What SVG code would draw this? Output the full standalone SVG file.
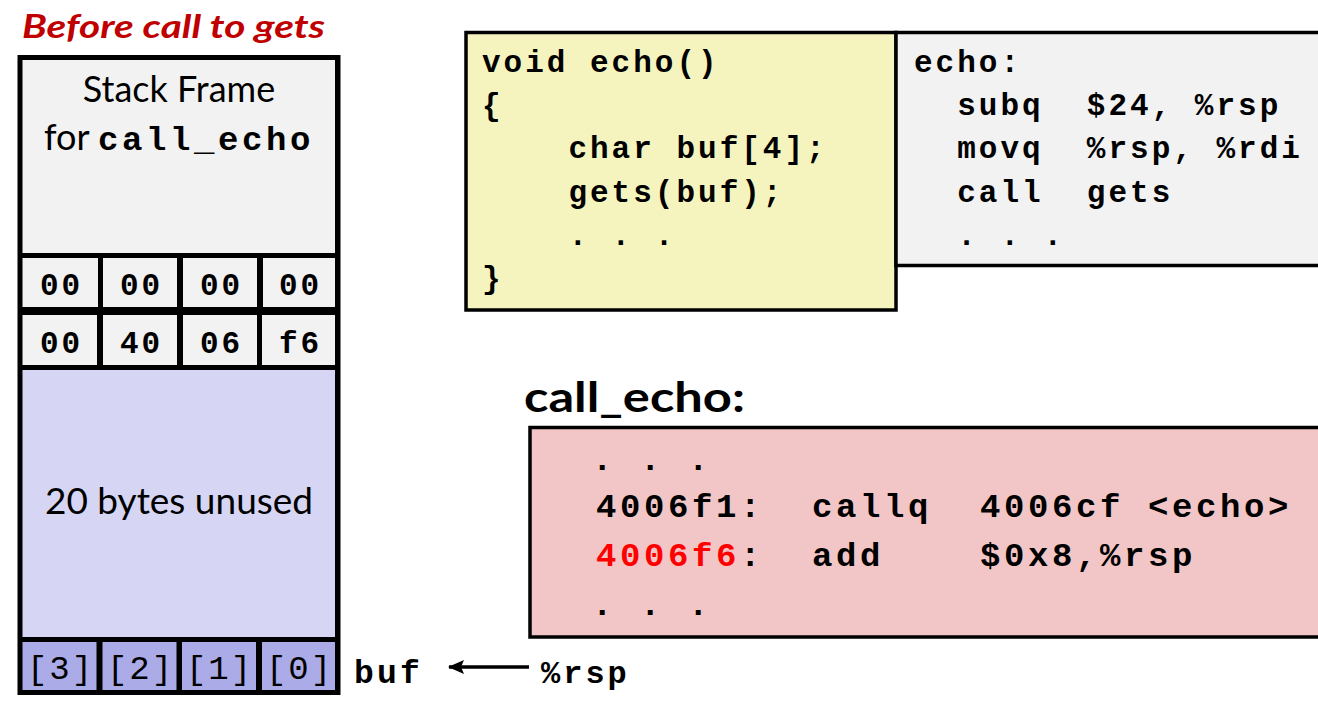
<svg xmlns="http://www.w3.org/2000/svg" width="1318" height="705" viewBox="0 0 1318 705">
  <style>
    .sans { font-family: Lato, "Open Sans", "Liberation Sans", sans-serif; fill: #000; }
    .mono { font-family: "Liberation Mono", "Courier New", monospace; font-weight: bold; fill: #000; }
    .monoR { font-family: "Liberation Mono", "Courier New", monospace; fill: #000; }
    .m36 { font-size: 31px; letter-spacing: 3px; }
    .m40 { font-size: 34px; letter-spacing: 3.6px; }
    .cell { fill: #F2F2F2; }
    .code { stroke: #000; stroke-width: 3.5; }
  </style>
  <defs>
    <marker id="arrowhead" markerWidth="16" markerHeight="14" refX="15" refY="7" orient="auto" markerUnits="userSpaceOnUse">
      <path d="M0,0 L16,7 L0,14 L3,7 Z" fill="#000"/>
    </marker>
  </defs>

  <rect width="1318" height="705" fill="#FFFFFF"/>

  <!-- Title -->
  <text class="sans" x="22" y="38" font-size="33" font-weight="bold" font-style="italic" style="fill:#C00000" textLength="303" lengthAdjust="spacingAndGlyphs">Before call to gets</text>

  <!-- Stack -->
  <g id="stack">
    <rect x="17.5" y="55" width="323" height="640" fill="#000"/>
    <g id="frame-call-echo">
      <rect class="cell" x="22.5" y="60" width="312.5" height="193"/>
      <text class="sans" x="179" y="102" font-size="36" text-anchor="middle">Stack Frame</text>
      <text x="44" y="150"><tspan class="sans" font-size="36">for&#160;</tspan><tspan class="mono m40">call_echo</tspan></text>
    </g>
    <g id="row-upper">
      <rect class="cell" x="22.5" y="258" width="75.5" height="49"/>
      <rect class="cell" x="103" y="258" width="74" height="49"/>
      <rect class="cell" x="183" y="258" width="74" height="49"/>
      <rect class="cell" x="263" y="258" width="72" height="49"/>
      <g class="mono m36" text-anchor="middle">
        <text x="61.5" y="295">00</text>
        <text x="141.5" y="295">00</text>
        <text x="221.5" y="295">00</text>
        <text x="300.5" y="295">00</text>
      </g>
    </g>
    <g id="row-return-address">
      <rect class="cell" x="22.5" y="315" width="74.5" height="50"/>
      <rect class="cell" x="103" y="315" width="74" height="50"/>
      <rect class="cell" x="183" y="315" width="74" height="50"/>
      <rect class="cell" x="262" y="315" width="73" height="50"/>
      <g class="mono m36" text-anchor="middle">
        <text x="61.5" y="353">00</text>
        <text x="141.5" y="353">40</text>
        <text x="221.5" y="353">06</text>
        <text x="300.5" y="353">f6</text>
      </g>
    </g>
    <g id="unused-space">
      <rect x="22.5" y="370" width="312.5" height="267" fill="#D6D6F4"/>
      <text class="sans" x="179" y="514" font-size="37" text-anchor="middle">20 bytes unused</text>
    </g>
    <g id="buf-bytes">
      <rect x="22.5" y="642" width="74" height="48" fill="#ABABE8"/>
      <rect x="102.5" y="642" width="74" height="48" fill="#ABABE8"/>
      <rect x="182" y="642" width="74" height="48" fill="#ABABE8"/>
      <rect x="262" y="642" width="73" height="48" fill="#ABABE8"/>
      <g class="monoR" font-size="34" letter-spacing="2" text-anchor="middle">
        <text x="60.5" y="679">[3]</text>
        <text x="140.5" y="679">[2]</text>
        <text x="219.5" y="679">[1]</text>
        <text x="299.5" y="679">[0]</text>
      </g>
    </g>
  </g>

  <!-- Pointer labels -->
  <g id="buf-label">
    <text class="mono" x="354" y="683" font-size="33" letter-spacing="3.2">buf</text>
  </g>
  <g id="rsp-label">
    <text class="mono" x="541" y="683" font-size="32" letter-spacing="3">%rsp</text>
  </g>

  <!-- Connectors -->
  <g id="connectors">
    <line x1="529" y1="667" x2="449" y2="667" stroke="#000" stroke-width="3.5" marker-end="url(#arrowhead)"/>
  </g>

  <!-- C source of echo -->
  <g id="echo-source">
    <rect class="code" x="466" y="32.5" width="430" height="277.5" fill="#F6F4BE"/>
    <g class="mono m36">
      <text x="482" y="72">void&#160;echo()</text>
      <text x="482" y="115">{</text>
      <text x="482" y="158">&#160;&#160;&#160;&#160;char&#160;buf[4];</text>
      <text x="482" y="201.5">&#160;&#160;&#160;&#160;gets(buf);</text>
      <text x="482" y="245">&#160;&#160;&#160;&#160;.&#160;.&#160;.</text>
      <text x="482" y="288">}</text>
    </g>
  </g>

  <!-- Assembly of echo -->
  <g id="echo-asm">
    <rect class="code" x="896" y="32.5" width="440" height="233" fill="#F2F2F2"/>
    <g class="mono m36">
      <text x="914" y="72">echo:</text>
      <text x="914" y="115">&#160;&#160;subq&#160;&#160;$24,&#160;%rsp</text>
      <text x="914" y="158">&#160;&#160;movq&#160;&#160;%rsp,&#160;%rdi</text>
      <text x="914" y="201.5">&#160;&#160;call&#160;&#160;gets</text>
      <text x="914" y="245">&#160;&#160;.&#160;.&#160;.</text>
    </g>
  </g>

  <!-- Disassembly of call_echo -->
  <g id="call-echo">
    <text class="sans" x="524" y="412" font-size="42" font-weight="bold" textLength="221" lengthAdjust="spacingAndGlyphs">call_echo:</text>
    <rect class="code" x="530" y="427.5" width="810" height="209.5" fill="#F2C6C6"/>
    <g class="mono m40">
      <text x="592" y="470">.&#160;.&#160;.</text>
      <text x="596" y="517">4006f1:&#160;&#160;callq&#160;&#160;4006cf&#160;&lt;echo&gt;</text>
      <text x="596" y="566"><tspan style="fill:#FF0000">4006f6</tspan>:&#160;&#160;add&#160;&#160;&#160;&#160;$0x8,%rsp</text>
      <text x="592" y="615">.&#160;.&#160;.</text>
    </g>
  </g>
</svg>
